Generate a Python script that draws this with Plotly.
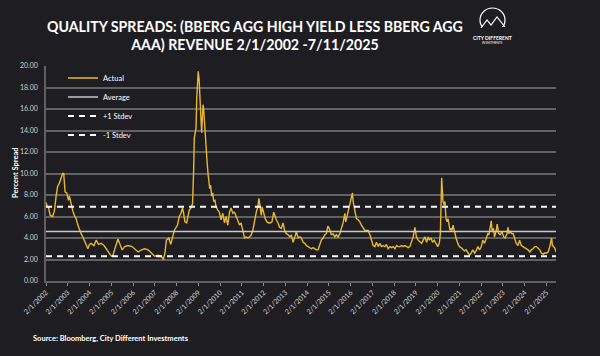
import datetime as dt
import plotly.graph_objects as go

# ---------------- data ----------------
years = [
    2002.085, 2002.13, 2002.19, 2002.28, 2002.39, 2002.47, 2002.55, 2002.62, 2002.70, 2002.78,
    2002.85, 2002.90, 2002.96, 2003.04, 2003.12, 2003.16, 2003.24, 2003.32, 2003.39, 2003.47,
    2003.55, 2003.62, 2003.70, 2003.78, 2003.85, 2003.93, 2004.01, 2004.08, 2004.16, 2004.29,
    2004.39, 2004.50, 2004.62, 2004.75, 2004.85, 2005.01, 2005.09, 2005.16, 2005.24, 2005.32,
    2005.39, 2005.47, 2005.58, 2005.70, 2005.85, 2006.04, 2006.16, 2006.32, 2006.47, 2006.62,
    2006.78, 2006.93, 2007.08, 2007.24, 2007.39, 2007.48, 2007.55, 2007.62, 2007.73, 2007.82,
    2007.98, 2008.13, 2008.21, 2008.29, 2008.36, 2008.41, 2008.47, 2008.55, 2008.61, 2008.67,
    2008.75, 2008.82, 2008.87, 2008.90, 2008.95, 2008.98, 2009.01, 2009.05, 2009.08, 2009.12,
    2009.16, 2009.21, 2009.24, 2009.27, 2009.30, 2009.33, 2009.36, 2009.41, 2009.44, 2009.48,
    2009.53, 2009.56, 2009.61, 2009.65, 2009.70, 2009.75, 2009.79, 2009.85, 2009.90, 2009.98,
    2010.05, 2010.13, 2010.21, 2010.29, 2010.36, 2010.44, 2010.52, 2010.59, 2010.67, 2010.75,
    2010.82, 2010.90, 2010.98, 2011.05, 2011.13, 2011.21, 2011.29, 2011.36, 2011.44, 2011.52,
    2011.59, 2011.67, 2011.75, 2011.82, 2011.87, 2011.93, 2011.98, 2012.02, 2012.09, 2012.16,
    2012.24, 2012.32, 2012.39, 2012.47, 2012.55, 2012.61, 2012.67, 2012.75, 2012.82, 2012.90,
    2012.98, 2013.05, 2013.13, 2013.21, 2013.29, 2013.36, 2013.44, 2013.52, 2013.59, 2013.67,
    2013.75, 2013.82, 2013.90, 2013.98, 2014.05, 2014.13, 2014.21, 2014.28, 2014.36, 2014.44,
    2014.51, 2014.59, 2014.67, 2014.74, 2014.82, 2014.90, 2014.97, 2015.04, 2015.10, 2015.16,
    2015.20, 2015.28, 2015.36, 2015.43, 2015.51, 2015.59, 2015.66, 2015.74, 2015.82, 2015.86,
    2015.93, 2015.99, 2016.05, 2016.12, 2016.17, 2016.20, 2016.25, 2016.29, 2016.35, 2016.43,
    2016.51, 2016.58, 2016.66, 2016.74, 2016.81, 2016.89, 2016.97, 2017.04, 2017.12, 2017.20,
    2017.27, 2017.35, 2017.43, 2017.50, 2017.58, 2017.66, 2017.73, 2017.81, 2017.89, 2017.96,
    2018.04, 2018.12, 2018.20, 2018.27, 2018.35, 2018.43, 2018.50, 2018.58, 2018.66, 2018.73,
    2018.81, 2018.89, 2018.96, 2019.04, 2019.11, 2019.19, 2019.27, 2019.35, 2019.42, 2019.50,
    2019.58, 2019.65, 2019.70, 2019.78, 2019.85, 2019.93, 2020.01, 2020.09, 2020.16, 2020.21,
    2020.24, 2020.27, 2020.30, 2020.33, 2020.38, 2020.42, 2020.47, 2020.52, 2020.56, 2020.61,
    2020.65, 2020.70, 2020.75, 2020.79, 2020.85, 2020.93, 2021.01, 2021.08, 2021.16, 2021.24,
    2021.32, 2021.39, 2021.47, 2021.55, 2021.62, 2021.70, 2021.78, 2021.85, 2021.93, 2022.01,
    2022.09, 2022.16, 2022.24, 2022.32, 2022.39, 2022.44, 2022.49, 2022.55, 2022.59, 2022.65,
    2022.70, 2022.78, 2022.82, 2022.89, 2022.96, 2023.04, 2023.12, 2023.19, 2023.27, 2023.32,
    2023.36, 2023.42, 2023.50, 2023.56, 2023.62, 2023.70, 2023.78, 2023.85, 2023.93, 2024.01,
    2024.09, 2024.16, 2024.24, 2024.32, 2024.39, 2024.47, 2024.55, 2024.62, 2024.70, 2024.78,
    2024.85, 2024.93, 2025.01, 2025.09, 2025.16, 2025.24, 2025.32, 2025.36, 2025.42, 2025.48,
    2025.525,
]
spread = [
    7.3, 7.0, 6.9, 6.1, 6.0, 6.5, 7.9, 8.8, 9.1, 9.7,
    10.0, 10.0, 8.3, 8.2, 7.5, 7.9, 7.1, 6.5, 6.1, 5.8,
    5.2, 4.8, 4.4, 4.1, 3.8, 3.5, 3.0, 3.4, 3.5, 3.3,
    3.8, 3.4, 3.5, 3.3, 3.0, 2.6, 2.3, 2.4, 2.9, 3.5,
    3.9, 3.5, 2.9, 3.2, 3.3, 3.2, 3.0, 2.7, 2.9, 3.0,
    2.9, 2.6, 2.3, 2.4, 2.3, 2.0, 2.6, 3.8, 4.0, 3.4,
    4.7, 5.2, 6.0, 6.3, 6.8, 6.3, 5.5, 5.4, 6.0, 6.6,
    6.8, 7.2, 10.3, 13.3, 13.9, 14.2, 16.9, 18.4, 19.5, 18.8,
    16.0, 14.9, 13.8, 15.0, 16.4, 16.0, 14.9, 13.8, 12.4, 11.3,
    10.0, 9.1, 8.6, 8.9, 7.9, 8.2, 7.4, 7.5, 6.9, 6.6,
    6.4, 5.7, 6.3, 5.4, 6.0, 5.2, 6.4, 6.8, 6.3, 6.4,
    6.0, 5.5, 5.2, 5.4, 4.7, 4.0, 4.1, 4.0, 4.1, 4.3,
    4.7, 5.7, 6.4, 6.9, 7.7, 6.9, 6.1, 6.9, 6.3, 5.8,
    5.5, 5.4, 5.4, 5.5, 6.4, 6.0, 5.7, 5.4, 5.0, 4.9,
    5.4, 4.7, 4.4, 4.3, 4.1, 4.3, 3.6, 4.1, 4.6, 4.0,
    4.1, 4.0, 3.6, 3.5, 3.3, 3.2, 3.1, 3.0, 3.1, 3.0,
    2.9, 2.9, 3.3, 3.8, 4.0, 4.3, 4.4, 5.1, 4.9, 4.6,
    4.3, 4.4, 4.1, 4.3, 4.1, 4.4, 4.9, 5.4, 6.3, 5.5,
    6.1, 6.6, 7.4, 7.7, 8.2, 7.4, 6.9, 6.4, 5.8, 5.7,
    5.5, 5.2, 4.9, 4.7, 4.7, 4.7, 4.3, 3.8, 3.3, 3.2,
    3.6, 3.2, 3.5, 3.2, 3.3, 3.2, 3.4, 3.0, 3.2, 3.1,
    3.2, 3.0, 3.3, 3.2, 3.2, 3.3, 3.2, 3.3, 3.2, 3.1,
    3.2, 3.6, 4.1, 5.0, 4.1, 3.8, 3.6, 3.5, 3.8, 4.1,
    3.6, 4.1, 3.8, 4.0, 3.6, 3.8, 3.5, 3.2, 3.5, 4.4,
    6.9, 9.6, 8.5, 7.4, 7.1, 7.4, 5.8, 5.5, 5.8, 5.0,
    4.7, 4.9, 4.7, 5.2, 4.6, 4.0, 3.5, 3.2, 3.1, 2.9,
    2.8, 2.9, 2.7, 2.4, 2.6, 2.9, 2.6, 2.8, 3.2, 2.9,
    3.2, 3.8, 3.5, 4.0, 4.4, 4.3, 5.0, 5.6, 4.6, 4.9,
    4.1, 4.7, 5.3, 4.4, 4.3, 4.6, 4.1, 4.0, 4.4, 5.0,
    4.4, 4.6, 4.4, 4.4, 4.0, 3.5, 3.3, 3.8, 3.3, 3.2,
    3.1, 3.0, 2.9, 2.7, 2.9, 3.0, 3.2, 3.2, 3.0, 2.9,
    2.6, 2.5, 2.6, 2.6, 2.7, 3.2, 4.0, 3.3, 3.2, 3.0,
    2.7,
]
average = 4.6
stdev = 2.3
y_ticks = [0, 2, 4, 6, 8, 10, 12, 14, 16, 18, 20]


def to_date(y):
    yr = int(y)
    start = dt.datetime(yr, 1, 1)
    days = (dt.datetime(yr + 1, 1, 1) - start).days
    return start + dt.timedelta(days=(y - yr) * days)


dates = [to_date(y) for y in years]
dates[0] = dt.datetime(2002, 2, 1)
dates[-1] = dt.datetime(2025, 7, 11)
span = [dates[0], dates[-1]]

BG = "#1e1e22"
FONT = "Lato"

fig = go.Figure()
fig.add_trace(go.Scatter(x=dates, y=spread, mode="lines", name="Actual",
                         line=dict(color="#e8b731", width=1.4)))
fig.add_trace(go.Scatter(x=span, y=[average, average], mode="lines", name="Average",
                         line=dict(color="#c9c9c9", width=1.5)))
fig.add_trace(go.Scatter(x=span, y=[average + stdev] * 2, mode="lines", name="+1 Stdev",
                         line=dict(color="#ffffff", width=2, dash="6px,5px")))
fig.add_trace(go.Scatter(x=span, y=[average - stdev] * 2, mode="lines", name="-1 Stdev",
                         line=dict(color="#ffffff", width=2, dash="6px,5px")))

# plot area in pixels
L, R, T, B = 46, 556, 66, 281
W, H = 600, 356


def px(x):
    return (x - L) / (R - L)


def py(y):
    return (B - y) / (B - T)


shapes = []
# logo: arch + mountains
shapes.append(dict(type="circle", xref="paper", yref="paper",
                   x0=px(480), x1=px(505), y0=py(32), y1=py(8),
                   line=dict(color="#ffffff", width=1.2)))
shapes.append(dict(type="rect", xref="paper", yref="paper",
                   x0=px(478), x1=px(507), y0=py(33), y1=py(27),
                   line=dict(width=0), fillcolor=BG))
shapes.append(dict(type="path", xref="paper", yref="paper",
                   path="M {} {} L {} {} L {} {} L {} {} L {} {}".format(
                       px(481), py(28), px(487), py(20), px(491), py(25),
                       px(497), py(17), px(505), py(27)),
                   line=dict(color="#ffffff", width=1.2)))

annotations = [
    dict(text="QUALITY SPREADS: (BBERG AGG HIGH YIELD LESS BBERG AGG<br>AAA) REVENUE 2/1/2002 -7/11/2025",
         xref="paper", yref="paper", x=px(255), y=py(16), xanchor="center", yanchor="top",
         showarrow=False, font=dict(family=FONT, size=14.2, color="#ffffff", weight="bold")),
    dict(text="CITY DIFFERENT", xref="paper", yref="paper", x=px(492), y=py(38),
         xanchor="center", yanchor="middle", showarrow=False,
         font=dict(family=FONT, size=5, color="#ffffff", weight="bold")),
    dict(text="INVESTMENTS", xref="paper", yref="paper", x=px(492), y=py(43),
         xanchor="center", yanchor="middle", showarrow=False,
         font=dict(family=FONT, size=3, color="#ffffff")),
    dict(text="Percent Spread", xref="paper", yref="paper", x=px(15), y=py(173),
         xanchor="center", yanchor="middle", showarrow=False, textangle=-90,
         font=dict(family=FONT, size=7.5, color="#ffffff", weight="bold")),
    dict(text="Source: Bloomberg, City Different Investments", xref="paper", yref="paper",
         x=px(31), y=py(338), xanchor="left", yanchor="middle", showarrow=False,
         font=dict(family=FONT, size=7.5, color="#ffffff", weight="bold")),
]

fig.update_layout(
    width=W, height=H,
    paper_bgcolor=BG, plot_bgcolor=BG,
    margin=dict(l=L, r=W - R, t=T, b=H - B, pad=0, autoexpand=False),
    showlegend=True,
    legend=dict(x=px(63), y=py(63.5), xanchor="left", yanchor="top",
                bgcolor="rgba(0,0,0,0)", font=dict(family=FONT, size=7.5, color="#ffffff"),
                tracegroupgap=0, itemwidth=30),
    shapes=shapes, annotations=annotations,
    font=dict(family=FONT),
)
fig.update_xaxes(
    type="date", range=span, tick0="2002-02-01", dtick="M12",
    tickformat="%-m/%-d/%Y", tickangle=-45, automargin=False,
    tickfont=dict(family=FONT, size=7, color="#d0d0d0"),
    showgrid=False, zeroline=False, showline=True, linecolor="#5f5f5f", linewidth=1.5,
    ticks="outside", ticklen=3, tickcolor="#8a8a8a",
)
fig.update_yaxes(
    range=[0, 20], tickvals=y_ticks, tickformat=".2f", automargin=False,
    tickfont=dict(family=FONT, size=7, color="#d0d0d0"),
    showgrid=True, gridcolor="#626262", gridwidth=1.5, zeroline=False,
    showline=True, linecolor="#5f5f5f", linewidth=1.5, ticks="", ticklabelstandoff=5,
)

fig.write_html(
    "out.html",
    config={"displayModeBar": False},
    post_script="document.body.style.margin='0';document.body.style.background='" + BG + "';",
)
